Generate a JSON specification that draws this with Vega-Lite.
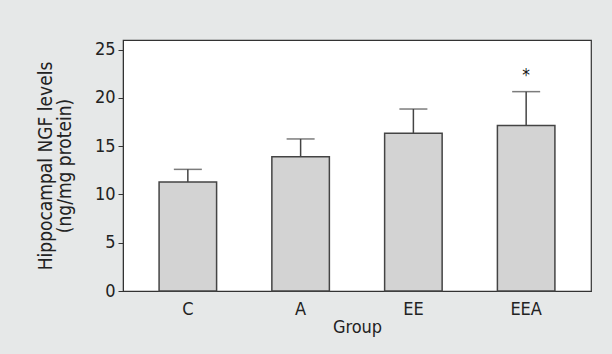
{
  "$schema": "https://vega.github.io/schema/vega-lite/v6.json",
  "width": 468,
  "height": 251,
  "autosize": {"type": "none"},
  "padding": {"left": 123, "top": 40, "right": 21, "bottom": 63},
  "background": "#e6e8e8",
  "config": {
    "view": {"stroke": "#333333", "strokeWidth": 1.2, "fill": "white"},
    "font": "DejaVu Sans Condensed, Liberation Sans, sans-serif"
  },
  "data": {
    "values": [
      {"group": "C", "value": 11.3, "upper": 12.6, "sig": ""},
      {"group": "A", "value": 13.9, "upper": 15.75, "sig": ""},
      {"group": "EE", "value": 16.35, "upper": 18.85, "sig": ""},
      {"group": "EEA", "value": 17.15, "upper": 20.65, "sig": "*"}
    ]
  },
  "encoding": {
    "x": {
      "field": "group",
      "type": "nominal",
      "sort": ["C", "A", "EE", "EEA"],
      "scale": {"paddingInner": 0.49, "paddingOuter": 0.32},
      "axis": {
        "title": "Group",
        "labelAngle": 0,
        "labelFontSize": 18,
        "labelColor": "#222222",
        "labelPadding": 9,
        "ticks": false,
        "domainColor": "#333333",
        "titleFontSize": 18,
        "titleFontWeight": "normal",
        "titleColor": "#222222",
        "titlePadding": 0
      }
    }
  },
  "layer": [
    {
      "mark": {"type": "rule", "color": "#444444", "strokeWidth": 1.5},
      "encoding": {
        "y": {"field": "value", "type": "quantitative"},
        "y2": {"field": "upper"}
      }
    },
    {
      "mark": {"type": "tick", "color": "#444444", "thickness": 1.5, "size": 28},
      "encoding": {
        "y": {"field": "upper", "type": "quantitative"}
      }
    },
    {
      "mark": {"type": "bar", "fill": "#d3d3d3", "stroke": "#444444", "strokeWidth": 1.5},
      "encoding": {
        "y": {
          "field": "value",
          "type": "quantitative",
          "scale": {"domain": [0, 25]},
          "axis": {
            "title": ["Hippocampal NGF levels", "(ng/mg protein)"],
            "values": [0, 5, 10, 15, 20, 25],
            "grid": false,
            "labelFontSize": 18,
            "labelColor": "#222222",
            "labelPadding": 3,
            "tickSize": 5,
            "tickColor": "#333333",
            "domainColor": "#333333",
            "titleFontSize": 19,
            "titleFontWeight": "normal",
            "titleColor": "#222222",
            "titlePadding": 20,
            "titleLineHeight": 19
          }
        }
      }
    },
    {
      "mark": {"type": "text", "fontSize": 17, "dy": -7, "color": "#111111", "baseline": "bottom"},
      "encoding": {
        "y": {"field": "upper", "type": "quantitative"},
        "text": {"field": "sig"}
      }
    }
  ]
}
